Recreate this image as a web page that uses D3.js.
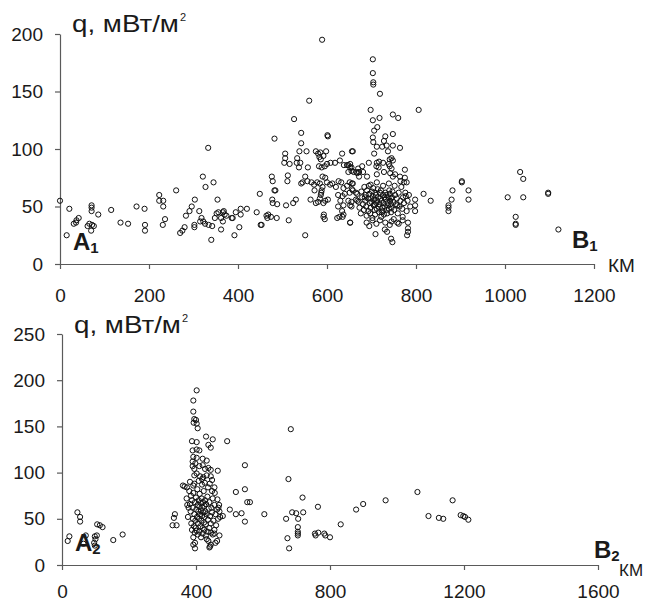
<!DOCTYPE html>
<html>
<head>
<meta charset="utf-8">
<title>q profiles</title>
<style>
  body { margin: 0; background: #fff; }
  text { font-family: "Liberation Sans", Arial, sans-serif; }
</style>
</head>
<body>
<svg width="645" height="601" id="mainsvg"></svg>
<script src="https://cdn.jsdelivr.net/npm/d3@7"></script>
<script>
// профиль A1-B1: [км, q мВт/м2]
const topPoints = [
  [0,55],[21,48],[15,25],[31,35],[37,38],[42,40],[36,36],[71,51],[71,49],[71,46],[62,33],[66,35],[72,34],[76,33],[70,29],
  [86,43],[115,47],[136,36],[153,35],[172,50],[190,48],[191,34],[191,29],[223,60],[223,55],[232,55],[232,50],[236,39],[231,34],
  [261,64],[270,27],[275,29],[280,32],[283,42],[291,46],[296,50],[303,56],[302,34],[302,32],[313,46],[318,40],[315,37],[322,37],
  [326,35],[334,34],[321,76],[327,67],[333,101],[345,71],[342,33],[340,21],[354,56],[348,40],[352,44],[356,45],[362,40],[366,45],
  [368,46],[370,43],[374,42],[362,30],[366,37],[386,40],[388,40],[392,25],[395,45],[403,32],[406,48],[406,43],[420,48],[442,45],
  [449,61],[451,34],
  [589,195],[560,142],[526,126],[542,114],[482,109],[602,111],[542,105],[538,98],[554,98],[575,98],[580,96],[585,97],[598,98],
  [583,93],[586,91],[592,94],[506,96],[506,92],[504,88],[516,87],[533,92],[532,88],[540,88],[537,84],[557,84],[582,85],[588,84],
  [595,85],[600,87],[608,88],[618,88],[634,96],[656,98],[629,90],[648,86],[655,84],[648,80],[668,79],[476,76],[478,72],[512,77],
  [511,72],[477,56],[482,64],[484,64],[478,53],[488,52],[508,51],[524,53],[530,56],[514,38],[464,42],[468,43],[474,41],[466,40],
  [487,40],[453,34],[551,25],[551,76],[556,72],[545,71],[542,70],[565,71],[571,69],[578,71],[584,70],[590,76],[596,75],[600,71],
  [590,67],[588,64],[587,62],[586,60],[584,57],[592,53],[580,54],[596,55],[602,56],[572,64],[563,56],[575,53],[592,41],[593,43],
  [595,39],[607,69],[612,70],[620,67],[626,72],[632,71],[637,66],[645,68],[651,71],[656,70],[658,64],[651,62],[640,61],[635,59],
  [625,60],[630,55],[625,50],[637,51],[634,46],[637,43],[635,41],[648,55],[655,54],[652,51],[655,50],[665,56],[668,55],[672,76],
  [670,83],[660,80],[655,81],[645,86],[638,86],[665,62],[623,40],[628,41],[652,36],
  [703,178],[703,166],[704,158],[704,156],[719,148],[698,134],[806,134],[703,125],[718,127],[748,130],[760,127],[706,116],
  [713,119],[703,110],[704,106],[728,107],[731,111],[712,102],[724,102],[748,113],[706,96],[734,103],[748,103],[764,101],[737,98],
  [741,91],[745,92],[748,90],[739,87],[741,85],[745,83],[775,82],[717,89],[726,88],[694,88],[712,88],[716,84],[711,85],[658,98],
  [679,85],[672,80],[681,80],[666,80],[690,76],[712,78],[728,80],[742,79],[748,76],[753,78],[764,76],[775,75],[773,71],[779,71],
  [652,87],[652,84],[658,70],[656,65],[652,36],[601,112],
  [668,61],[671,54],[673,49],[677,63],[676,44],[679,58],[681,52],[684,67],[683,47],[687,60],[686,55],[689,42],[690,64],[688,50],
  [692,57],[693,46],[694,68],[696,53],[695,61],[697,44],[699,57],[698,49],[701,63],[700,54],[702,40],[703,59],[705,51],[704,66],
  [707,47],[706,56],[709,62],[708,43],[711,53],[710,60],[712,48],[714,65],[713,55],[716,50],[715,58],[717,45],[719,62],[718,52],
  [720,57],[722,41],[721,64],[724,49],[723,55],[726,60],[725,46],[727,53],[729,58],[728,43],[731,62],[730,50],[732,56],[734,47],
  [733,60],[736,53],[735,44],[738,58],[737,51],[740,64],[739,48],[742,55],[741,61],[744,45],[743,52],[746,58],[745,49],[747,63],
  [749,54],[751,47],[753,60],[755,52],[757,57],[759,44],[761,62],[763,50],[765,55],[767,67],[769,48],[771,58],[773,53],[776,62],
  [779,46],[781,55],[784,60],[787,50],[689,36],[695,33],[702,38],[711,35],[719,38],[731,36],[741,34],[750,39],[761,35],[770,41],
  [698,69],[712,71],[726,68],[739,70],[752,68],[765,72],[685,58],[707,52],[723,45],[744,57],[758,51],[777,59],
  [782,28],[782,31],[782,36],[730,30],[735,28],[744,22],[747,19],[709,26],[745,37],[758,36],[770,38],[780,25],
  [817,61],[833,55],[798,56],[798,51],[798,46],[873,51],[873,49],[873,46],[882,64],[880,56],[903,72],[903,71],[918,64],[918,56],
  [1006,58],[1024,41],[1024,35],[1024,34],[1034,80],[1041,74],[1041,58],[1097,62],[1097,61],[1120,30]
];

// профиль A2-B2
const bottomPoints = [
  [46,57],[54,52],[54,47],[22,31],[17,26],[71,32],[64,23],[105,44],[113,43],[121,41],[98,31],[104,32],[100,28],[96,24],[98,21],
  [153,27],[181,33],
  [402,189],[392,178],[392,166],[395,158],[400,157],[393,154],[402,153],[405,148],[430,139],[450,136],[493,134],[437,130],
  [444,127],[388,134],[402,133],[390,124],[402,125],[410,124],[392,117],[402,116],[420,115],[432,113],[390,112],[398,110],
  [410,107],[420,108],[427,104],[437,105],[444,103],[395,104],[390,107],[465,102],[395,97],[402,99],[412,96],[422,95],[432,97],
  [444,96],[448,92],[366,85],[373,84],[361,86],[392,86],[418,87],[441,88],[455,84],[546,108],[546,82],[519,79],[553,68],
  [372,72],[374,65],[382,66],[464,71],[469,65],[467,62],[501,60],[519,55],[536,56],[546,47],[472,52],[480,53],
  [337,55],[334,51],[330,43],[342,43],
  [380,80],[385,75],[388,70],[390,62],[392,78],[395,55],[397,68],[398,48],[400,73],[401,60],[403,52],[404,82],[405,65],[406,45],
  [407,58],[408,70],[409,50],[410,63],[411,77],[412,55],[413,42],[414,67],[415,59],[416,48],[417,72],[418,53],[419,62],[420,40],
  [421,68],[422,57],[423,80],[424,46],[425,64],[426,52],[427,70],[428,58],[429,44],[430,66],[432,55],[434,74],[436,49],[438,61],
  [440,68],[442,53],[444,45],[446,62],[448,57],[450,72],[452,48],[455,65],[458,55],[460,43],[463,60],[466,50],[470,58],
  [384,58],[386,45],[388,38],[391,50],[394,42],[396,35],[399,40],[402,37],[405,33],[410,36],[415,30],[420,34],[425,38],[430,32],
  [435,36],[440,40],[445,35],[450,33],[455,38],[378,62],[376,52],[382,90],[395,88],[408,91],[418,93],[426,89],[436,84],[448,80],
  [456,78],[392,30],[397,24],[392,22],[397,18],[432,28],[437,26],[444,22],[440,19],[442,20],[455,34],[470,32],[463,26],[458,24],
  [561,68],[604,55],[683,147],[676,93],[718,73],[764,63],[669,50],[687,57],[699,56],[705,50],[720,57],[704,41],[704,36],[704,34],
  [704,32],[673,29],[678,18],[755,34],[757,32],[765,35],[783,34],[786,32],[800,30],[832,44],[878,60],[899,66],[966,70],[1061,79],
  [1094,53],[1125,51],[1138,50],[1166,70],[1190,54],[1198,53],[1203,52],[1213,49]
];

const topXTicks = [0, 200, 400, 600, 800, 1000, 1200];
const topYTicks = [0, 50, 100, 150, 200];
const bottomXTicks = [0, 400, 800, 1200, 1600];
const bottomYTicks = [0, 50, 100, 150, 200, 250];

const svg = d3.select("#mainsvg");

function drawPanel(cfg) {
  const x = d3.scaleLinear().domain(cfg.xDomain).range([cfg.left, cfg.right]);
  const y = d3.scaleLinear().domain(cfg.yDomain).range([cfg.bottom, cfg.top]);
  const g = svg.append("g");

  const xAxis = g.append("g")
    .attr("transform", `translate(0, ${cfg.bottom})`)
    .call(d3.axisBottom(x).tickValues(cfg.xTicks).tickFormat(d3.format("d"))
      .tickSize(5).tickSizeOuter(0).tickPadding(cfg.xPad));
  const yAxis = g.append("g")
    .attr("transform", `translate(${cfg.left}, 0)`)
    .call(d3.axisLeft(y).tickValues(cfg.yTicks).tickFormat(d3.format("d"))
      .tickSize(5).tickSizeOuter(0).tickPadding(12));

  [xAxis, yAxis].forEach((a) => {
    a.selectAll("path, line").attr("stroke", "#5a5a5a").attr("stroke-width", 1.2);
    a.selectAll("text").attr("font-size", 19).attr("fill", "#1a1a1a")
      .attr("font-family", '"Liberation Sans", Arial, sans-serif');
  });

  g.append("g").selectAll("circle")
    .data(cfg.points)
    .join("circle")
    .attr("cx", (d) => x(d[0]))
    .attr("cy", (d) => y(d[1]))
    .attr("r", 2.6)
    .attr("fill", "none")
    .attr("stroke", "#111")
    .attr("stroke-width", 1);

  // подпись оси q (в оригинале шрифт растянут по ширине)
  const tx = cfg.left + 12;
  const title = g.append("text").attr("x", 0).attr("y", 0)
    .attr("font-size", 23).attr("fill", "#1a1a1a")
    .text("q, мВт/м");
  const w = title.node().getComputedTextLength();
  const k = 107 / w;
  title.attr("transform", `translate(${tx}, ${cfg.titleY}) scale(${k}, 1)`);
  g.append("text").attr("x", tx + 108).attr("y", cfg.titleY - 11)
    .attr("font-size", 11).attr("fill", "#1a1a1a").text("2");

  // A, B
  const a = g.append("text").attr("x", cfg.left + 13).attr("y", cfg.bottom - 14)
    .attr("font-size", 24).attr("font-weight", "bold").attr("fill", "#1a1a1a");
  a.append("tspan").text("A");
  a.append("tspan").attr("dy", 3).attr("font-size", 15).text(cfg.sub);

  const b = g.append("text").attr("x", cfg.bX).attr("y", cfg.bY)
    .attr("font-size", 24).attr("font-weight", "bold").attr("fill", "#1a1a1a");
  b.append("tspan").text("B");
  b.append("tspan").attr("dy", 3).attr("font-size", 15).text(cfg.sub);

  g.append("text").attr("x", cfg.kmX).attr("y", cfg.kmY)
    .attr("font-size", cfg.kmSize).attr("fill", "#1a1a1a").text("КМ");
}

drawPanel({
  points: topPoints, xDomain: [0, 1200], yDomain: [0, 200],
  xTicks: topXTicks, yTicks: topYTicks,
  left: 60, right: 594, top: 34, bottom: 264, xPad: 20, titleY: 32,
  sub: "1", bX: 572, bY: 248, kmX: 608, kmY: 272, kmSize: 19
});

drawPanel({
  points: bottomPoints, xDomain: [0, 1600], yDomain: [0, 250],
  xTicks: bottomXTicks, yTicks: bottomYTicks,
  left: 62, right: 598, top: 334, bottom: 565, xPad: 15, titleY: 333,
  sub: "2", bX: 594, bY: 558, kmX: 619, kmY: 576, kmSize: 17
});
</script>
</body>
</html>
